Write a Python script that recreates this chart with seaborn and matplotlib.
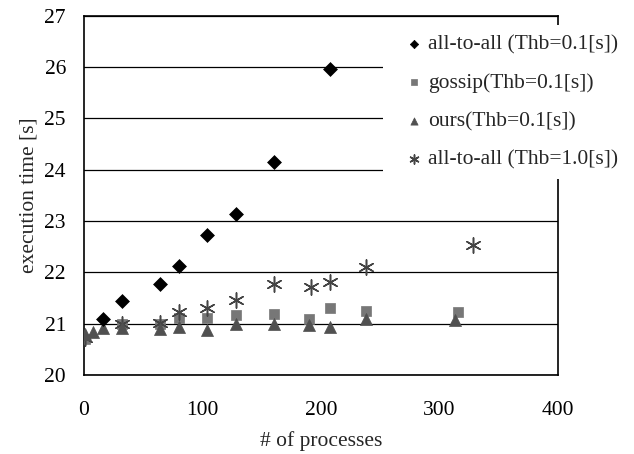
import matplotlib
matplotlib.use("Agg")
import matplotlib.pyplot as plt
import seaborn as sns
import pandas as pd

# ---- data ----
a2a01_x = [16, 32, 64, 80, 104, 128, 160, 208]
a2a01_y = [21.09, 21.45, 21.77, 22.13, 22.72, 23.13, 24.16, 25.96]

gossip_x = [1, 32, 64, 80, 104, 128, 160, 190, 208, 238, 316]
gossip_y = [20.70, 21.00, 20.99, 21.12, 21.12, 21.16, 21.19, 21.10, 21.30, 21.25, 21.23]

ours_x = [1, 8, 16, 32, 64, 80, 104, 128, 160, 190, 208, 238, 313]
ours_y = [20.80, 20.84, 20.92, 20.91, 20.89, 20.94, 20.88, 20.99, 20.99, 20.97, 20.94, 21.10, 21.07]

a2a10_x = [1, 32, 64, 80, 104, 128, 160, 192, 208, 238, 328]
a2a10_y = [20.72, 21.00, 21.02, 21.23, 21.30, 21.47, 21.77, 21.72, 21.82, 22.10, 22.53]

labels = ["all-to-all (Thb=0.1[s])", "gossip(Thb=0.1[s])",
          "ours(Thb=0.1[s])", "all-to-all (Thb=1.0[s])"]
x_ticks = [0, 100, 200, 300, 400]
y_ticks = [20, 21, 22, 23, 24, 25, 26, 27]

sns.set_theme(style="white")
plt.rcParams["font.family"] = ["Liberation Serif", "DejaVu Serif"]

FS = 15.5
fig = plt.figure(figsize=(6.34, 4.54), dpi=100)
ax = fig.add_axes([0.1325, 0.174, 0.7475, 0.791])

df1 = pd.DataFrame({"x": a2a01_x, "y": a2a01_y})
df2 = pd.DataFrame({"x": gossip_x, "y": gossip_y})
df3 = pd.DataFrame({"x": ours_x, "y": ours_y})
df4 = pd.DataFrame({"x": a2a10_x, "y": a2a10_y})

sns.scatterplot(data=df1, x="x", y="y", ax=ax, marker="D", s=50, color="black",
                edgecolor="black", linewidth=0.5, label=labels[0], zorder=4)
sns.scatterplot(data=df2, x="x", y="y", ax=ax, marker="s", s=55, color="#777777",
                edgecolor="#777777", linewidth=0.5, label=labels[1], zorder=3)
sns.scatterplot(data=df3, x="x", y="y", ax=ax, marker="^", s=75, color="#505050",
                edgecolor="#505050", linewidth=0.5, label=labels[2], zorder=3.5)
sns.scatterplot(data=df4, x="x", y="y", ax=ax, marker=(6, 2, 0), s=120, color="#444444",
                linewidth=1.1, label=labels[3], zorder=3.2)

ax.set_xlim(0, 400)
ax.set_ylim(20, 27)
ax.set_xticks(x_ticks)
ax.set_yticks(y_ticks)
ax.tick_params(axis="both", labelsize=FS, colors="black")
ax.tick_params(axis="x", direction="in", length=5, width=1, pad=19)
ax.tick_params(axis="y", length=0, pad=13)
ax.yaxis.grid(True, color="black", linewidth=0.9)
ax.xaxis.grid(False)
ax.set_axisbelow(True)
for sp in ax.spines.values():
    sp.set_color("black")
    sp.set_linewidth(1.2)
    sp.set_visible(True)

ax.set_xlabel("# of processes", fontsize=FS, labelpad=8)
ax.set_ylabel("execution time [s]", fontsize=FS, labelpad=4)

leg = ax.legend(loc="upper left", bbox_to_anchor=(0.631, 0.974), frameon=True,
                facecolor="white", edgecolor="none", framealpha=1, fontsize=FS,
                markerscale=0.6, handletextpad=-0.35, labelspacing=0.84,
                borderpad=0.45, borderaxespad=0.0, handlelength=2.0, fancybox=False)

fig.savefig("out.png", dpi=100)
